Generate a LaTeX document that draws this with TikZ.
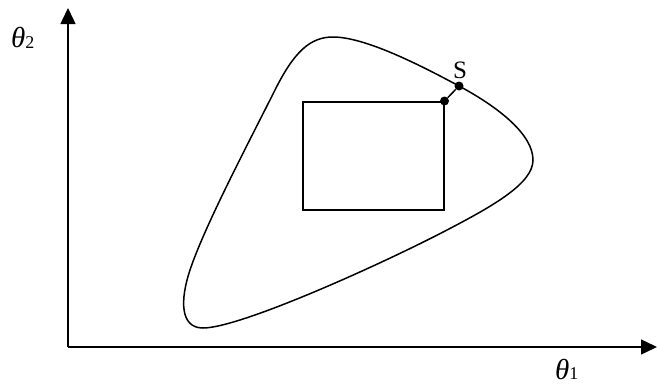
\documentclass[tikz,border=0pt]{standalone}
\usepackage{fontspec}
\setmainfont{Liberation Serif}
\usetikzlibrary{arrows.meta}
\begin{document}
\begin{tikzpicture}[x=1pt,y=-1pt,
  line/.style={line width=1.5pt},
  axis/.style={line width=1.5pt,-{Triangle[length=16pt,width=15pt]}},
  lbl/.style={font=\fontsize{29}{32}\selectfont,inner sep=0pt},
  dot/.style={circle,fill=black,inner sep=0pt,minimum size=9pt}]
\useasboundingbox (0,0) rectangle (657,386);
\coordinate (o) at (68,347);
\coordinate (ytip) at (68,8);
\coordinate (xtip) at (657,347);
\draw[axis] (o) -- (ytip);
\draw[axis] (o) -- (xtip);
\node[lbl,anchor=base west] (t2) at (11,47) {\itshape θ\upshape\raisebox{-0.1ex}{\fontsize{18}{20}\selectfont 2}};
\node[lbl,anchor=base west] (t1) at (555,379) {\itshape θ\upshape{\fontsize{18}{20}\selectfont 1}};
\draw[line] (333,37) .. controls (365,37) and (420,65) .. (459,86)
  .. controls (500,108) and (533,135) .. (533,160)
  .. controls (533,183) and (495,205) .. (447,230)
  .. controls (380,265) and (240,328) .. (203,328)
  .. controls (180,328) and (180,300) .. (190,270)
  .. controls (205,225) and (250,140) .. (275,90)
  .. controls (294,52) and (310,37) .. (333,37) -- cycle;
\node[draw,line width=1.5pt,minimum width=141pt,minimum height=108pt,anchor=north west,inner sep=0pt] (box) at (302,101) {};
\node[dot] (p) at (box.north east) {};
\node[dot] (s) at (459,86) {};
\draw[line] (p) -- (s);
\node[lbl,anchor=base,font=\fontsize{25}{28}\selectfont] (sl) at (460,78) {S};
\end{tikzpicture}
\end{document}
